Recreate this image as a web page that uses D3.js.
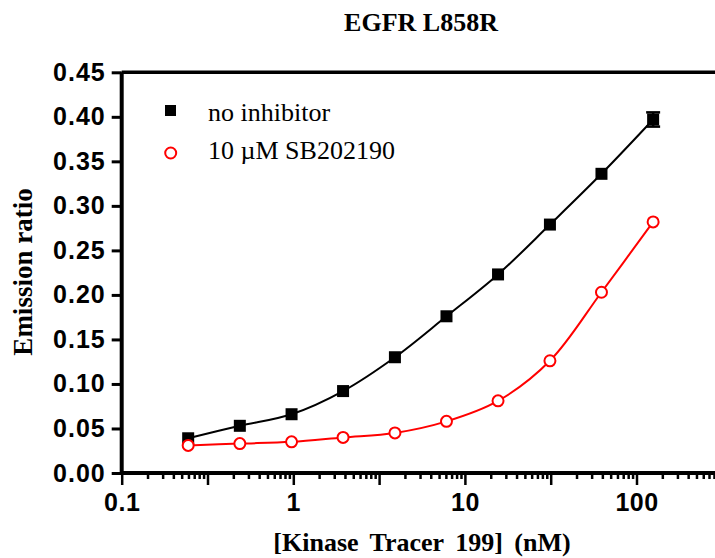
<!DOCTYPE html>
<html lang="en">
<head>
    <meta charset="UTF-8">
    <title>EGFR L858R</title>
    <script src="https://cdnjs.cloudflare.com/ajax/libs/d3/7.8.5/d3.min.js"></script>
    <style>
        body { margin: 0; background: #fff; }
    </style>
</head>
<body>
<svg width="715" height="558"></svg>
<script>
    // tracer concentrations (nM), 2-fold dilution series
    const conc = [0.244, 0.488, 0.977, 1.95, 3.91, 7.81, 15.6, 31.3, 62.5, 125];
    const noInhibitor = [0.039, 0.053, 0.066, 0.092, 0.130, 0.176, 0.223, 0.279, 0.336, 0.397];
    const noInhibitorErr = [0, 0, 0, 0, 0, 0, 0, 0, 0, 0.008];
    const sb202190 = [0.031, 0.033, 0.035, 0.040, 0.045, 0.058, 0.081, 0.126, 0.203, 0.282];
    const yTicks = [0, 0.05, 0.10, 0.15, 0.20, 0.25, 0.30, 0.35, 0.40, 0.45];
    const xLabels = [0.1, 1, 10, 100];
    const seriesNames = ['no inhibitor', '10 \u00b5M SB202190'];

    const svg = d3.select('svg');
    const SANS = '"Liberation Sans", Arial, sans-serif';
    const SERIF = '"Liberation Serif", "Times New Roman", serif';

    const x = d3.scaleLog().domain([0.1, 1000]).range([121.7, 808.1]);
    const y = d3.scaleLinear().domain([0, 0.45]).range([473, 72.3]);

    // half-decade major ticks and the minor ticks between them
    const majors = [], minors = [];
    for (let j = 0; j < 8; j++) {
        majors.push(0.1 * Math.sqrt(10 ** j));
        for (let m = 2; m < 10; m++) minors.push(0.1 * Math.sqrt(10 ** j * m));
    }

    // x axis, minor ticks
    svg.append('g')
        .attr('transform', `translate(0,${y(0)})`)
        .call(d3.axisBottom(x).tickValues(minors).tickSize(6).tickFormat(''))
        .call(g => g.select('.domain').remove())
        .call(g => g.selectAll('line').attr('stroke', '#000').attr('stroke-width', 2.5));

    // x axis, major ticks + labels
    const xAxis = svg.append('g')
        .attr('transform', `translate(0,${y(0)})`)
        .call(d3.axisBottom(x).tickValues(majors).tickSize(12).tickPadding(8)
            .tickFormat(d => {
                const hit = xLabels.find(v => Math.abs(v - d) / v < 1e-6);
                return hit === undefined ? '' : String(hit);
            }));
    xAxis.select('.domain')
        .attr('stroke', '#000').attr('stroke-width', 4)
        .attr('d', `M${x(0.1)},0H715`);
    xAxis.selectAll('line').attr('stroke', '#000').attr('stroke-width', 2.5);
    xAxis.selectAll('text')
        .attr('fill', '#000')
        .attr('font-family', SANS)
        .attr('font-weight', 'bold')
        .attr('font-size', '25px')
        .attr('letter-spacing', '0.5px');

    // y axis
    const yAxis = svg.append('g')
        .attr('transform', `translate(${x(0.1)},0)`)
        .call(d3.axisLeft(y).tickValues(yTicks).tickSize(10).tickPadding(6)
            .tickFormat(d3.format('.2f')));
    yAxis.select('.domain')
        .attr('stroke', '#000').attr('stroke-width', 4)
        .attr('d', `M0,${y(0.45)}V${y(0)}`);
    yAxis.selectAll('line').attr('stroke', '#000').attr('stroke-width', 3);
    yAxis.selectAll('text')
        .attr('fill', '#000')
        .attr('font-family', SANS)
        .attr('font-weight', 'bold')
        .attr('font-size', '25px')
        .attr('letter-spacing', '1px');

    // top frame line
    svg.append('line')
        .attr('x1', x(0.1)).attr('x2', 715)
        .attr('y1', y(0.45)).attr('y2', y(0.45))
        .attr('stroke', '#000').attr('stroke-width', 3.5);

    // smooth curves through the points
    const line = d3.line()
        .x((d, i) => x(conc[i]))
        .y(d => y(d))
        .curve(d3.curveCatmullRom.alpha(0.5));

    svg.append('path')
        .attr('d', line(noInhibitor))
        .attr('fill', 'none').attr('stroke', '#000').attr('stroke-width', 2);
    svg.append('path')
        .attr('d', line(sb202190))
        .attr('fill', 'none').attr('stroke', '#ff0000').attr('stroke-width', 2);

    // error bars
    const eb = svg.append('g').attr('stroke', '#000').attr('stroke-width', 2.5);
    noInhibitor.forEach((v, i) => {
        const e = noInhibitorErr[i];
        if (!e) return;
        const cx = x(conc[i]);
        eb.append('line').attr('x1', cx).attr('x2', cx).attr('y1', y(v - e)).attr('y2', y(v + e));
        eb.append('line').attr('x1', cx - 7).attr('x2', cx + 7).attr('y1', y(v - e)).attr('y2', y(v - e));
        eb.append('line').attr('x1', cx - 7).attr('x2', cx + 7).attr('y1', y(v + e)).attr('y2', y(v + e));
    });

    // markers
    svg.append('g').selectAll('rect')
        .data(noInhibitor)
        .join('rect')
        .attr('x', (d, i) => x(conc[i]) - 6)
        .attr('y', d => y(d) - 6)
        .attr('width', 12).attr('height', 12)
        .attr('fill', '#000');

    svg.append('g').selectAll('circle')
        .data(sb202190)
        .join('circle')
        .attr('cx', (d, i) => x(conc[i]))
        .attr('cy', d => y(d))
        .attr('r', 5.5)
        .attr('fill', '#fff')
        .attr('stroke', '#ff0000')
        .attr('stroke-width', 2);

    // legend
    const legend = svg.append('g');
    legend.append('rect')
        .attr('x', 165).attr('y', 105).attr('width', 11).attr('height', 11)
        .attr('fill', '#000');
    legend.append('circle')
        .attr('cx', 170.7).attr('cy', 153).attr('r', 5.5)
        .attr('fill', '#fff').attr('stroke', '#ff0000').attr('stroke-width', 2);
    legend.selectAll('text')
        .data(seriesNames)
        .join('text')
        .attr('x', 208)
        .attr('y', (d, i) => 121 + i * 37.5)
        .attr('font-family', SERIF)
        .attr('font-size', '26px')
        .attr('fill', '#000')
        .text(d => d);

    // titles
    svg.append('text')
        .attr('x', 421).attr('y', 31)
        .attr('text-anchor', 'middle')
        .attr('font-family', SERIF)
        .attr('font-weight', 'bold')
        .attr('font-size', '26px')
        .text('EGFR L858R');

    svg.append('text')
        .attr('x', 422).attr('y', 551)
        .attr('text-anchor', 'middle')
        .attr('font-family', SERIF)
        .attr('font-weight', 'bold')
        .attr('font-size', '26px')
        .attr('word-spacing', '5px')
        .text('[Kinase Tracer 199] (nM)');

    svg.append('text')
        .attr('transform', 'translate(32,272) rotate(-90)')
        .attr('text-anchor', 'middle')
        .attr('font-family', SERIF)
        .attr('font-weight', 'bold')
        .attr('font-size', '27px')
        .text('Emission ratio');
</script>
</body>
</html>
